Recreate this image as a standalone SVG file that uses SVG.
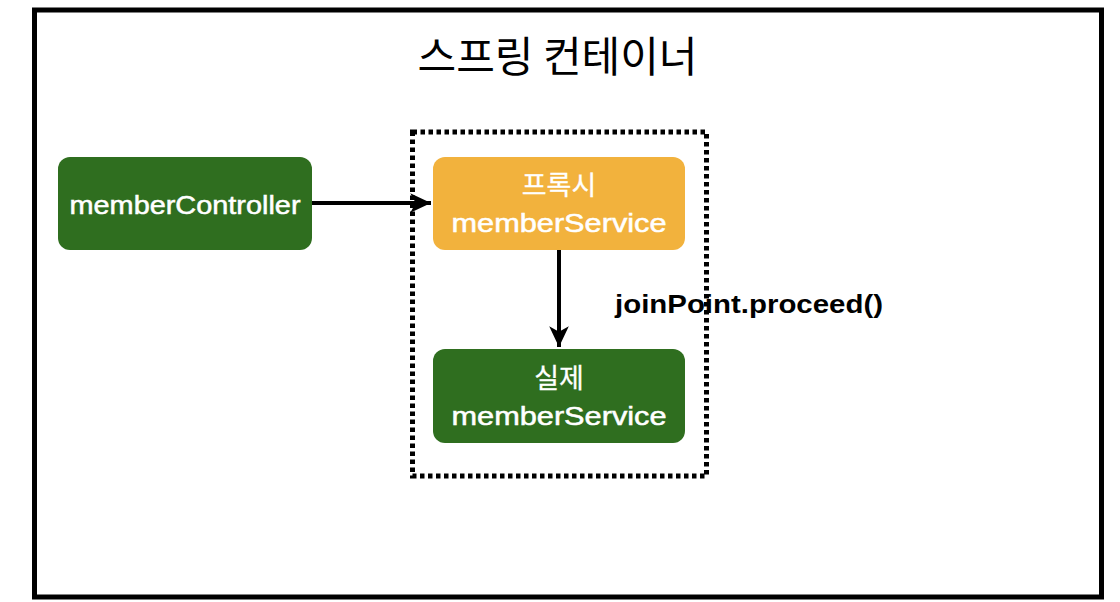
<svg xmlns="http://www.w3.org/2000/svg" width="1120" height="602" viewBox="0 0 1120 602">
  <style>
    .lbl { font-family: "Liberation Sans", "Noto Sans CJK KR", sans-serif; fill: #ffffff; stroke: #ffffff; stroke-width: 0.5; font-size: 25px; text-anchor: middle; }
    .kr { font-family: "Noto Sans CJK KR", sans-serif; font-size: 27px; font-weight: 400; stroke-width: 0.3; }
    .green { fill: #2f6e1f; }
    .orange { fill: #f2b23d; }
    .edge { stroke: #000; stroke-width: 4; fill: none; }
  </style>
  <defs>
    <marker id="arrow" markerUnits="userSpaceOnUse" markerWidth="24" markerHeight="24" viewBox="-20 -10 22 20" refX="0" refY="0" orient="auto">
      <path d="M0,0 L-19,-9 L-14,0 L-19,9 Z" fill="#000"/>
    </marker>
  </defs>
  <rect x="0" y="0" width="1120" height="602" fill="#ffffff"/>
  <g id="container">
    <rect x="34.5" y="10" width="1067" height="587" fill="none" stroke="#000" stroke-width="5"/>
    <text x="557.5" y="72" font-family="Noto Sans CJK KR, sans-serif" font-size="42" text-anchor="middle" fill="#000">스프링 컨테이너</text>
  </g>
  <g id="proxy-boundary">
    <rect x="412.5" y="132" width="294" height="344" fill="none" stroke="#000" stroke-width="5" stroke-dasharray="4.5 3.5"/>
  </g>
  <g id="connectors">
    <path class="edge" d="M312,203 L431,203" marker-end="url(#arrow)"/>
    <path class="edge" d="M559,250 L559,347" marker-end="url(#arrow)"/>
    <text x="615" y="313" font-family="Liberation Sans, sans-serif" font-weight="bold" font-size="26" fill="#000" textLength="268" lengthAdjust="spacingAndGlyphs">joinPoint.proceed()</text>
  </g>
  <g id="memberController">
    <rect class="green" x="58" y="157" width="254" height="93" rx="12"/>
    <text class="lbl" x="185" y="214" textLength="231" lengthAdjust="spacingAndGlyphs">memberController</text>
  </g>
  <g id="proxyMemberService">
    <rect class="orange" x="433" y="157" width="252" height="93" rx="12"/>
    <text class="lbl kr" x="559" y="195">프록시</text>
    <text class="lbl" x="559" y="232" textLength="215" lengthAdjust="spacingAndGlyphs">memberService</text>
  </g>
  <g id="realMemberService">
    <rect class="green" x="433" y="349" width="252" height="94" rx="12"/>
    <text class="lbl kr" x="559" y="388">실제</text>
    <text class="lbl" x="559" y="425" textLength="215" lengthAdjust="spacingAndGlyphs">memberService</text>
  </g>
</svg>
